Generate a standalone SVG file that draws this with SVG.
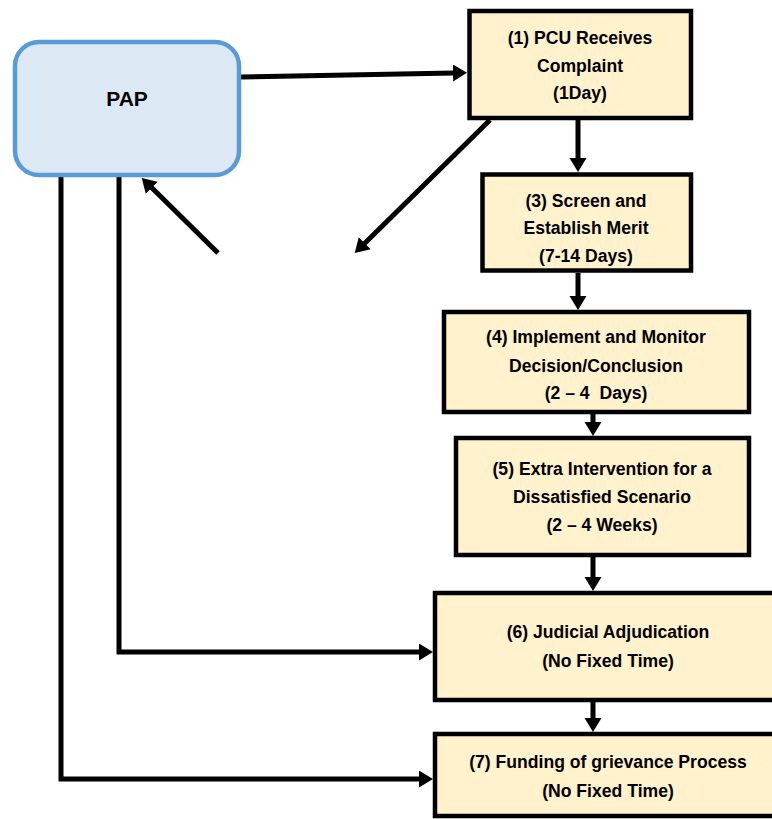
<svg xmlns="http://www.w3.org/2000/svg" width="772" height="819" viewBox="0 0 772 819">
<style>
.box{fill:#fff2cc;stroke:#000;stroke-width:4.5}
.pap{fill:#dde8f5;stroke:#5b9bd5;stroke-width:4.5}
.t{font-family:"Liberation Sans",Arial,sans-serif;font-weight:bold;font-size:17.6px;fill:#000;text-anchor:middle}
.c{fill:none;stroke:#000;stroke-width:5}
</style>
<defs>
<marker id="ah" markerUnits="userSpaceOnUse" markerWidth="16" markerHeight="18" refX="1" refY="8.5" orient="auto" viewBox="0 0 16 18">
<path d="M0,0 L14,8.5 L0,17 z" fill="#000"/>
</marker>
</defs>
<rect width="772" height="819" fill="#fff"/>
<g id="connectors">
<path class="c" d="M241,77 L454,73" marker-end="url(#ah)"/>
<path class="c" d="M490,120 L364,244" marker-end="url(#ah)"/>
<path class="c" d="M218,253 L151,187" marker-end="url(#ah)"/>
<path class="c" d="M578,120 V159" marker-end="url(#ah)"/>
<path class="c" d="M578,273 V297" marker-end="url(#ah)"/>
<path class="c" d="M593,414 V423" marker-end="url(#ah)"/>
<path class="c" d="M593,557 V578" marker-end="url(#ah)"/>
<path class="c" d="M593,702 V719" marker-end="url(#ah)"/>
<path class="c" d="M119,177 V652 H420" marker-end="url(#ah)"/>
<path class="c" d="M61,177 V779 H420" marker-end="url(#ah)"/>
</g>
<g id="pap">
<rect class="pap" x="15" y="42" width="224" height="133" rx="24"/>
<text class="t" x="127" y="106" style="font-size:21px">PAP</text>
</g>
<g id="step1">
<rect class="box" x="469.5" y="11" width="221.5" height="107"/>
<text class="t" x="580" y="44">(1) PCU Receives</text>
<text class="t" x="580" y="72">Complaint</text>
<text class="t" x="580" y="99">(1Day)</text>
</g>
<g id="step3">
<rect class="box" x="482.5" y="174.5" width="208.5" height="96"/>
<text class="t" x="586" y="207">(3) Screen and</text>
<text class="t" x="586" y="234">Establish Merit</text>
<text class="t" x="586" y="262">(7-14 Days)</text>
</g>
<g id="step4">
<rect class="box" x="444" y="312" width="305" height="100"/>
<text class="t" x="596" y="343">(4) Implement and Monitor</text>
<text class="t" x="596" y="372">Decision/Conclusion</text>
<text class="t" x="596" y="399" xml:space="preserve">(2 – 4  Days)</text>
</g>
<g id="step5">
<rect class="box" x="456" y="438" width="293" height="117"/>
<text class="t" x="602" y="475">(5) Extra Intervention for a</text>
<text class="t" x="602" y="503">Dissatisfied Scenario</text>
<text class="t" x="602" y="531">(2 – 4 Weeks)</text>
</g>
<g id="step6">
<rect class="box" x="435" y="593" width="400" height="107"/>
<text class="t" x="608" y="638">(6) Judicial Adjudication</text>
<text class="t" x="608" y="667">(No Fixed Time)</text>
</g>
<g id="step7">
<rect class="box" x="435" y="734" width="400" height="82"/>
<text class="t" x="608" y="768">(7) Funding of grievance Process</text>
<text class="t" x="608" y="797">(No Fixed Time)</text>
</g>
</svg>
